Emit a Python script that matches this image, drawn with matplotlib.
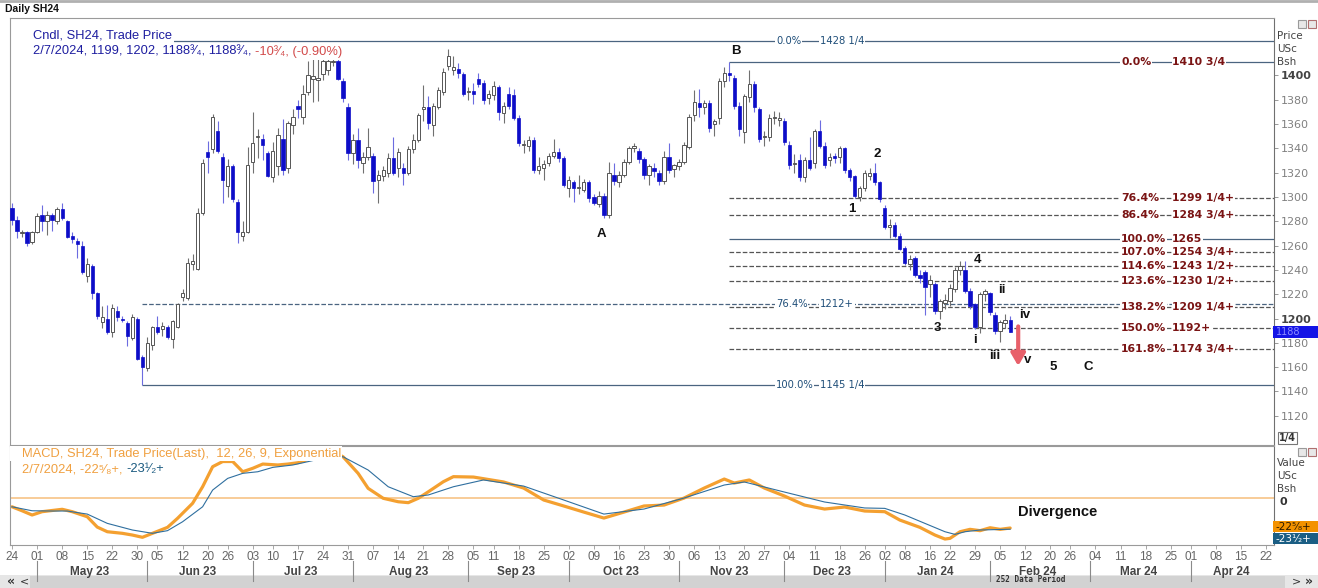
import numpy as np
import pandas as pd
import matplotlib
matplotlib.use('Agg')
import matplotlib.pyplot as plt
from matplotlib.patches import Rectangle
from matplotlib.lines import Line2D
from matplotlib.transforms import blended_transform_factory

plt.rcParams['font.family'] = ['DejaVu Sans']
SANS = ['Liberation Sans', 'DejaVu Sans']

W, H = 1318, 588

# ---------------- data ----------------
holidays = ['2023-05-29', '2023-06-19', '2023-07-04', '2023-09-04', '2023-11-23',
            '2023-12-25', '2024-01-01', '2024-01-15', '2024-02-19', '2024-03-29']

# daily SH24 candles, 24 Apr 2023 .. 7 Feb 2024 (US cents / bushel)
opens = [
    1291, 1281, 1270, 1271, 1263, 1271, 1285, 1280, 1285, 1280,
    1290, 1280, 1268, 1264, 1260, 1235, 1243, 1221, 1197, 1200,
    1189, 1206, 1200, 1196, 1184, 1200, 1168, 1159, 1178, 1193,
    1191, 1193, 1183, 1193, 1218, 1217, 1245, 1241, 1287, 1337,
    1339, 1354, 1333, 1309, 1325, 1296, 1268, 1271, 1329, 1349,
    1348, 1336, 1316, 1325, 1348, 1324, 1359, 1375, 1366, 1386,
    1397, 1396, 1401, 1404, 1411, 1412, 1395, 1374, 1336, 1347,
    1328, 1333, 1334, 1314, 1317, 1320, 1332, 1324, 1324, 1320,
    1339, 1347, 1372, 1374, 1359, 1374, 1386, 1408, 1404, 1405,
    1401, 1386, 1387, 1397, 1394, 1381, 1384, 1390, 1369, 1385,
    1384, 1365, 1343, 1342, 1347, 1322, 1324, 1328, 1334, 1337,
    1332, 1307, 1312, 1307, 1306, 1312, 1300, 1294, 1301, 1285,
    1318, 1312, 1318, 1329, 1340, 1338, 1331, 1318, 1324, 1320,
    1313, 1333, 1323, 1325, 1329, 1341, 1367, 1377, 1374, 1377,
    1360, 1365, 1395, 1402, 1398, 1375, 1353, 1382, 1393, 1372,
    1349, 1349, 1365, 1363, 1362, 1343, 1327, 1330, 1316, 1330,
    1328, 1354, 1342, 1330, 1334, 1333, 1340, 1322, 1317, 1300,
    1307, 1317, 1320, 1312, 1291, 1275, 1277, 1268, 1258, 1245,
    1250, 1236, 1238, 1228, 1228, 1206, 1213, 1214, 1224, 1240,
    1240, 1223, 1212, 1193, 1220, 1221, 1203, 1190, 1196, 1199,
]
highs = [
    1295, 1284, 1273, 1272, 1272, 1287, 1293, 1288, 1287, 1292,
    1295, 1281, 1271, 1266, 1264, 1250, 1245, 1222, 1210, 1211,
    1212, 1210, 1202, 1198, 1204, 1201, 1170, 1185, 1194, 1202,
    1197, 1195, 1199, 1213, 1224, 1250, 1253, 1291, 1331, 1346,
    1368, 1362, 1336, 1331, 1327, 1298, 1280, 1341, 1370, 1356,
    1352, 1338, 1345, 1357, 1364, 1362, 1372, 1380, 1392, 1412,
    1413, 1414, 1414, 1418, 1419, 1418, 1398, 1377, 1352, 1357,
    1337, 1357, 1336, 1322, 1325, 1336, 1349, 1340, 1328, 1342,
    1352, 1369, 1392, 1383, 1377, 1390, 1406, 1422, 1416, 1410,
    1403, 1390, 1394, 1402, 1396, 1388, 1395, 1392, 1378, 1390,
    1389, 1367, 1347, 1350, 1349, 1333, 1330, 1336, 1348, 1340,
    1334, 1317, 1314, 1318, 1315, 1314, 1302, 1305, 1303, 1329,
    1328, 1321, 1331, 1342, 1344, 1340, 1333, 1327, 1328, 1322,
    1338, 1344, 1327, 1331, 1345, 1368, 1388, 1389, 1380, 1380,
    1364, 1398, 1407, 1410.75, 1400, 1378, 1385, 1404, 1395, 1374,
    1354, 1368, 1371, 1370, 1365, 1346, 1335, 1335, 1333, 1349,
    1356, 1363, 1345, 1336, 1336, 1342, 1341, 1324, 1318, 1309,
    1322, 1324, 1328, 1313, 1293, 1282, 1279, 1270, 1260, 1252,
    1251, 1240, 1240, 1236, 1230, 1216, 1220, 1228, 1242, 1247,
    1247, 1225, 1213, 1222, 1224, 1222, 1205, 1199, 1204, 1202,
]
lows = [
    1277, 1266, 1267, 1260, 1261, 1270, 1272, 1269, 1272, 1278,
    1281, 1266, 1262, 1250, 1237, 1230, 1216, 1200, 1192, 1187,
    1185, 1198, 1197, 1177, 1182, 1166, 1145.25, 1157, 1174, 1187,
    1186, 1183, 1176, 1192, 1214, 1215, 1240, 1240, 1285, 1320,
    1336, 1336, 1295, 1300, 1296, 1262, 1264, 1270, 1320, 1332,
    1330, 1316, 1312, 1318, 1318, 1320, 1352, 1365, 1360, 1384,
    1378, 1379, 1396, 1400, 1408, 1396, 1378, 1330, 1327, 1324,
    1320, 1330, 1303, 1295, 1313, 1316, 1318, 1316, 1310, 1318,
    1336, 1345, 1362, 1356, 1350, 1372, 1384, 1404, 1400, 1398,
    1383, 1380, 1376, 1390, 1376, 1376, 1380, 1363, 1361, 1372,
    1363, 1342, 1336, 1338, 1320, 1319, 1314, 1325, 1332, 1329,
    1308, 1300, 1296, 1302, 1304, 1296, 1293, 1292, 1283, 1283,
    1310, 1308, 1316, 1327, 1337, 1328, 1315, 1310, 1316, 1310,
    1311, 1320, 1316, 1322, 1327, 1339, 1362, 1366, 1368, 1353,
    1350, 1360, 1390, 1395, 1372, 1350, 1344, 1378, 1370, 1345,
    1342, 1346, 1360, 1358, 1343, 1323, 1320, 1313, 1312, 1322,
    1324, 1340, 1324, 1325, 1328, 1328, 1320, 1313, 1299, 1297,
    1305, 1314, 1310, 1296, 1274, 1266, 1266, 1256, 1244, 1240,
    1234, 1229, 1203, 1218, 1204, 1200, 1208, 1210, 1222, 1236,
    1221, 1208, 1191, 1188, 1214, 1203, 1187, 1181, 1192, 1188.75,
]
closes = [
    1281, 1272, 1271, 1262, 1271, 1284, 1280, 1285, 1281, 1290,
    1283, 1267, 1265, 1261, 1238, 1245, 1221, 1202, 1201, 1189,
    1209, 1201, 1199, 1186, 1201, 1167, 1160, 1180, 1193, 1189,
    1194, 1185, 1198, 1212, 1221, 1246, 1247, 1287, 1328, 1333,
    1366, 1338, 1314, 1325, 1298, 1271, 1271, 1326, 1344, 1350,
    1343, 1317, 1338, 1351, 1322, 1361, 1366, 1372, 1385, 1400,
    1399, 1398, 1412, 1412, 1412, 1397, 1381, 1336, 1347, 1330,
    1333, 1341, 1313, 1318, 1322, 1332, 1320, 1337, 1320, 1339,
    1347, 1367, 1374, 1361, 1375, 1388, 1403, 1416, 1407, 1402,
    1385, 1387, 1385, 1393, 1380, 1385, 1391, 1370, 1375, 1375,
    1365, 1344, 1343, 1347, 1322, 1325, 1327, 1334, 1337, 1332,
    1310, 1314, 1307, 1308, 1312, 1299, 1295, 1301, 1285, 1320,
    1313, 1318, 1329, 1340, 1342, 1331, 1318, 1325, 1321, 1313,
    1333, 1322, 1326, 1329, 1343, 1366, 1378, 1374, 1377, 1357,
    1362, 1395, 1402, 1400, 1375, 1356, 1383, 1393, 1374, 1348,
    1349, 1365, 1365, 1365, 1345, 1326, 1327, 1316, 1330, 1324,
    1354, 1342, 1326, 1333, 1332, 1340, 1322, 1316, 1301, 1307,
    1320, 1320, 1312, 1298, 1275, 1277, 1268, 1257, 1246, 1249,
    1236, 1233, 1226, 1232, 1206, 1214, 1215, 1225, 1240, 1243,
    1223, 1210, 1193, 1220, 1223, 1205, 1190, 1197, 1199, 1188.75,
]

# MACD (12,26,9), at bar index
macd_i = [0, 2, 4, 6, 10, 12, 15, 17, 19, 22, 24, 26, 28, 31, 33, 36, 38, 40, 42, 44,
          46, 48, 50, 53, 55, 57, 59, 61, 63, 65, 66, 69, 71, 74, 77, 79, 81, 83, 86, 88,
          92, 98, 102, 106, 110, 114, 118, 122, 126, 130, 134, 138, 142, 144, 147, 150, 154, 158, 162, 166,
          170, 174, 177, 181, 184, 186, 187, 189, 191, 193, 195, 197, 199]
macd_v = [-6.6, -9.6, -12.8, -10.3, -8.5, -10.3, -14.1, -21.9, -25.4, -26.6, -27.9, -29.6, -26.6, -22.1, -15.3, -4.0, 8.5, 23.6, 27.5, 27.5,
          19.8, 22.4, 25.6, 24.9, 25.6, 26.6, 29, 32, 34, 33, 31.1, 18.6, 7.3, -0.2, -2.8, -3.5, -0.2, 4.7, 12.3, 16.1,
          15.8, 12.1, 7.5, -1.5, -6.0, -10.6, -15.1, -10.6, -6.0, -5.3, 0, 7.5, 14.3, 11.3, 13.6, 7.5, 1.5, -5.3, -8.3, -6.8,
          -9.8, -10.3, -16.6, -22.1, -27.9, -30.9, -30.4, -25.4, -23.6, -24.6, -22.4, -23.6, -22.6]
sig_i = [0, 4, 8, 11, 15, 19, 24, 28, 31, 34, 38, 40, 43, 46, 49, 52, 56, 59, 62, 64,
         66, 71, 75, 78, 80, 83, 88, 94, 102, 110, 118, 126, 134, 142, 146, 154, 162, 170, 174, 178,
         182, 186, 188, 190, 193, 199]
sig_v = [-6.6, -9.6, -9.8, -9.8, -12.1, -19.1, -24.1, -26.6, -24.6, -17.9, -6.6, 6.0, 14.8, 18.6, 19.8, 23.1, 24.9, 27.4, 30, 31.5,
         31.1, 21.1, 8.5, 4.0, 1.0, 2.3, 8.5, 13.6, 9.0, -1.5, -12.1, -8.3, 0, 9.8, 12.1, 4.5, -3.0, -7.5, -7.8, -12.8,
         -19.1, -25.4, -27.4, -25.4, -24.1, -23.5]

# fibonacci from the May low
fib1_start = 26
fib1_lvl = [1428.25, 1212.0, 1145.25]
fib1_pct = ['0.0%', '76.4%', '100.0%']
fib1_txt = ['1428 1/4', '1212+', '1145 1/4']
fib1_ls = ['-', '--', '-']
# fibonacci from the November high
fib2_start = 143
fib2_lvl = [1410.75, 1299.25, 1284.75, 1265, 1254.75, 1243.5, 1230.5, 1209.25, 1192, 1174.75]
fib2_pct = ['0.0%', '76.4%', '86.4%', '100.0%', '107.0%', '114.6%', '123.6%', '138.2%', '150.0%', '161.8%']
fib2_txt = ['1410 3/4', '1299 1/4+', '1284 3/4+', '1265', '1254 3/4+', '1243 1/2+', '1230 1/2+',
            '1209 1/4+', '1192+', '1174 3/4+']
fib2_ls = ['-', '--', '--', '-', '--', '--', '--', '--', '--', '--']

# elliott wave labels
waves = ['B', 'A', '1', '2', '3', '4', 'i', 'ii', 'iii', 'iv', 'v', '5', 'C']
wave_x = [144.4, 117.6, 167.5, 172.5, 184.4, 192.4, 192.0, 197.4, 196.0, 201.8, 202.4, 207.6, 214.6]
wave_y = [1420.0, 1269.8, 1290.3, 1335.5, 1192.6, 1248.4, 1182.0, 1223.8, 1168.8, 1202.5, 1165.5, 1159.8, 1159.8]

price_ticks = list(range(1120, 1401, 20))

# ---------------- calendar ----------------
dates = pd.bdate_range('2023-04-24', '2024-05-15')
dates = dates[~dates.isin(pd.to_datetime(holidays))][:252]
wk = dates.isocalendar().week.values
week_pos = [i for i in range(len(dates)) if i == 0 or wk[i] != wk[i - 1]]
week_lab = [dates[i].strftime('%d') for i in week_pos]
mon = dates.month
month_pos = [i for i in range(1, len(dates)) if mon[i] != mon[i - 1]]
month_lab = [dates[i].strftime('%b %y') for i in month_pos]


def fx(x):
    return x / W


def fy(y):
    return 1 - y / H


fig = plt.figure(figsize=(W / 100, H / 100), dpi=100)
ax = fig.add_axes([fx(9.5), fy(445), 1264 / W, 427 / H])
axm = fig.add_axes([fx(9.5), fy(545), 1264 / W, 99 / H], sharex=ax)

XMAX = 251.5
ax.set_xlim(-0.5, XMAX)
ax.set_ylim(1096.0, 1447.1)
axm.set_ylim(-35.4, 39.2)

for a in (ax, axm):
    for s in a.spines.values():
        s.set_color('#9a9a9a')
        s.set_linewidth(0.8)
    a.spines['right'].set_color('#707070')

# ---- candles ----
o, h, l, c = map(np.array, (opens, highs, lows, closes))
x = np.arange(len(c))
up = c >= o
ax.vlines(x[up], l[up], h[up], color='#707070', lw=0.8, zorder=3)
ax.vlines(x[~up], l[~up], h[~up], color='#6c6ce0', lw=0.8, zorder=3)
lo = np.minimum(o, c)
bh = np.maximum(np.abs(c - o), 0.9)
ax.bar(x[up], bh[up], bottom=lo[up], width=0.66, facecolor='white',
       edgecolor='#555555', lw=0.7, zorder=4)
ax.bar(x[~up], bh[~up], bottom=lo[~up], width=0.66, facecolor='#0d0dc8',
       edgecolor='#0d0dc8', lw=0.5, zorder=4)

# ---- fibonacci lines ----
for lv, p, t, ls in zip(fib1_lvl, fib1_pct, fib1_txt, fib1_ls):
    ax.hlines(lv, fib1_start, XMAX, color='#4a6480', lw=0.9, linestyles=ls, zorder=2)
    for xx, s in ((152.3, p), (161.1, t)):
        ax.text(xx, lv, s, color='#1f4e79', fontsize=7.2, va='center', ha='left', zorder=5,
                bbox=dict(facecolor='white', edgecolor='none', pad=0.6))
for lv, p, t, ls in zip(fib2_lvl, fib2_pct, fib2_txt, fib2_ls):
    col = '#4a6480' if ls == '-' else '#555555'
    ax.hlines(lv, fib2_start, XMAX, color=col, lw=0.9, linestyles=ls, zorder=2)
    for xx, s in ((221.1, p), (231.3, t)):
        ax.text(xx, lv, s, color='#7a1414', fontsize=7.8, fontweight='bold', va='center',
                ha='left', zorder=5, bbox=dict(facecolor='white', edgecolor='none', pad=0.4))

for w, xx, yy in zip(waves, wave_x, wave_y):
    ax.text(xx, yy, w, family=SANS, fontsize=9.5, fontweight='bold', color='#111111',
            ha='center', va='center', zorder=6)

ax.annotate('', xy=(200.6, 1161), xytext=(200.6, 1193.5),
            arrowprops=dict(arrowstyle='-|>,head_length=0.6,head_width=0.35', color='#e8606a',
                            lw=3, mutation_scale=12, shrinkA=0, shrinkB=0), zorder=6)

# price axis
ax.yaxis.tick_right()
ax.set_yticks(price_ticks)
ax.tick_params(axis='y', direction='out', length=3, width=0.6, color='#888888',
               labelsize=8, labelcolor='#808080', pad=2)
for lab in ax.get_yticklabels():
    if lab.get_text() in ('1400', '1200'):
        lab.set_fontweight('bold')
        lab.set_color('#444444')
ax.tick_params(axis='x', bottom=False, labelbottom=False)

# ---- MACD ----
axm.axhline(0, color='#f8c890', lw=1.3, zorder=1)
axm.plot(macd_i, macd_v, color='#f4a030', lw=2.3, solid_capstyle='round', zorder=2)
axm.plot(sig_i, sig_v, color='#2f6f9f', lw=0.8, zorder=3)
axm.add_patch(Rectangle((0, (545 - 461) / 99), (342 - 9.5) / 1264, 1, transform=axm.transAxes,
                        facecolor='white', edgecolor='none', zorder=5))
axm.text(208.4, -10.5, 'Divergence', family=SANS, fontsize=10.5, fontweight='bold',
         color='#111111', ha='center', va='center', zorder=6)
axm.set_yticks([])
axm.set_xticks(week_pos)
axm.set_xticklabels(week_lab, family=SANS)
axm.tick_params(axis='x', direction='out', length=3, width=0.6, color='#999999',
                labelsize=8.5, labelcolor='#666666', pad=1.5)

# month labels and separators
bt = blended_transform_factory(axm.transData, fig.transFigure)
ends = month_pos[1:] + [XMAX + 0.5]
for p, e, lab in zip(month_pos, ends, month_lab):
    fig.add_artist(Line2D([p, p], [fy(561), fy(581)], transform=bt, color='#8a8a8a', lw=0.8))
    fig.text((p + e) / 2 - 0.5, fy(572), lab, transform=bt, family=SANS, fontsize=8.5,
             fontweight='bold', color='#444444', ha='center', va='center')

# ---- header / legends ----
fig.add_artist(Line2D([0, 1], [fy(1), fy(1)], color='#b0b0b0', lw=2))
fig.text(fx(5), fy(9), 'Daily SH24', family=SANS, fontsize=7.5, fontweight='bold',
         color='#111111', va='center')

navy, red = '#1e1ea0', '#d24a4a'
fig.text(fx(33), fy(35), 'Cndl, SH24, Trade Price', family=SANS, fontsize=9.3, color=navy,
         va='center', bbox=dict(facecolor='white', edgecolor='none', pad=1.5))
t2 = fig.text(fx(33), fy(52), '2/7/2024, 1199, 1202, 1188\u00b3\u2044\u2084, 1188\u00b3\u2044\u2084, ',
              family=SANS, fontsize=9.3, color=navy, va='center',
              bbox=dict(facecolor='white', edgecolor='none', pad=1.5))
orange, teal = '#f0a040', '#1a5a80'
fig.text(fx(22), fy(453.5), 'MACD, SH24, Trade Price(Last),  12, 26, 9, Exponential',
         family=SANS, fontsize=9.3, color=orange, va='center', zorder=6)
m2 = fig.text(fx(22), fy(469), '2/7/2024, -22\u2075\u2044\u2088+, ', family=SANS, fontsize=9.3,
              color=orange, va='center', zorder=6)
fig.canvas.draw()
r = fig.canvas.get_renderer()
x1 = t2.get_window_extent(r).x1 / fig.bbox.width
fig.text(x1, fy(52), '-10\u00b3\u2044\u2084, (-0.90%)', family=SANS, fontsize=9.3, color=red,
         va='center', bbox=dict(facecolor='white', edgecolor='none', pad=1.5))
x2 = m2.get_window_extent(r).x1 / fig.bbox.width
fig.text(x2, fy(469), '-23\u00b9\u2044\u2082+', family=SANS, fontsize=9.3, color=teal,
         va='center', zorder=6)

# right-hand panel labels
for yy, s in ((36, 'Price'), (49, 'USc'), (62, 'Bsh'), (463, 'Value'), (476, 'USc'), (489, 'Bsh')):
    fig.text(fx(1277), fy(yy), s, fontsize=7.5, color='#444444', va='center')
fig.text(fx(1279), fy(502), '0', fontsize=8, fontweight='bold', color='#333333', va='center')

fig.patches.append(Rectangle((fx(1273), fy(338)), 45 / W, 12 / H, transform=fig.transFigure,
                             facecolor='#1414e6', edgecolor='none'))
fig.text(fx(1276), fy(332), '1188', fontsize=7, color='#8c8cff', va='center')
fig.patches.append(Rectangle((fx(1278), fy(444)), 19 / W, 12 / H, transform=fig.transFigure,
                             facecolor='white', edgecolor='#777777', lw=0.8))
fig.text(fx(1287.5), fy(438), '1/4', fontsize=7, fontweight='bold', color='#333333',
         ha='center', va='center')
fig.patches.append(Rectangle((fx(1273), fy(532)), 45 / W, 11 / H, transform=fig.transFigure,
                             facecolor='#f39200', edgecolor='none'))
fig.text(fx(1275), fy(527), '-22\u2075\u2044\u2088+', fontsize=7.5, color='#2a1a00', va='center')
fig.patches.append(Rectangle((fx(1273), fy(544)), 45 / W, 11 / H, transform=fig.transFigure,
                             facecolor='#1b5e84', edgecolor='none'))
fig.text(fx(1275), fy(538.5), '-23\u00b9\u2044\u2082+', fontsize=7.5, color='white', va='center')

# window buttons
for yy in (19, 447):
    for xx, col in ((1298, '#9a9a9a'), (1308, '#b07070')):
        fig.patches.append(Rectangle((fx(xx), fy(yy + 9)), 8 / W, 8 / H, transform=fig.transFigure,
                                     facecolor='#e8e8e8', edgecolor=col, lw=0.8))

# scrollbar
fig.patches.append(Rectangle((0, 0), 1, 13 / H, transform=fig.transFigure,
                             facecolor='#e6e6e6', edgecolor='none'))
fig.patches.append(Rectangle((fx(30), 0), 1255 / W, 12 / H, transform=fig.transFigure,
                             facecolor='#d2d2d2', edgecolor='none'))
fig.text(fx(7), fy(581), '\u00ab', fontsize=9, fontweight='bold', color='#333333', va='center')
fig.text(fx(20), fy(581), '<', fontsize=8, color='#333333', va='center')
fig.text(fx(1292), fy(581), '>', fontsize=8, color='#333333', va='center')
fig.text(fx(1305), fy(581), '\u00bb', fontsize=9, fontweight='bold', color='#333333', va='center')
fig.text(fx(1031), fy(580), '252 Data Period', family='DejaVu Sans Mono', fontsize=5.5,
         fontweight='bold', color='#333333', ha='center', va='center')

fig.savefig('out.png', dpi=100)
